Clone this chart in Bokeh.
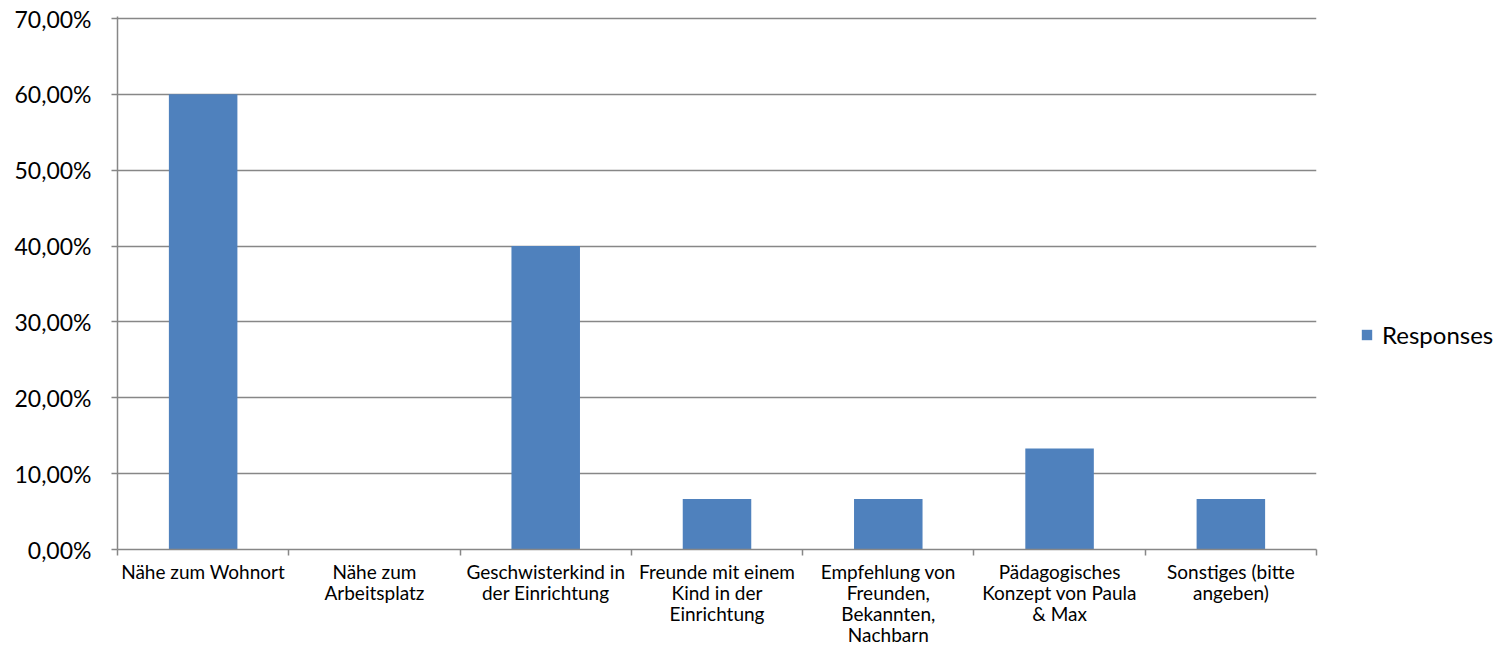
from bokeh.plotting import figure
from bokeh.layouts import row
from bokeh.models import (Range1d, FixedTicker, CustomJSTickFormatter, Legend,
                          LegendItem, ColumnDataSource)
from bokeh.embed import file_html
from bokeh.resources import INLINE

categories = [
    "Nähe zum Wohnort",
    "Nähe zum Arbeitsplatz",
    "Geschwisterkind in der Einrichtung",
    "Freunde mit einem Kind in der Einrichtung",
    "Empfehlung von Freunden, Bekannten, Nachbarn",
    "Pädagogisches Konzept von Paula & Max",
    "Sonstiges (bitte angeben)",
]
tick_labels = [
    "Nähe zum Wohnort",
    "Nähe zum\nArbeitsplatz",
    "Geschwisterkind in\nder Einrichtung",
    "Freunde mit einem\nKind in der\nEinrichtung",
    "Empfehlung von\nFreunden,\nBekannten,\nNachbarn",
    "Pädagogisches\nKonzept von Paula\n& Max",
    "Sonstiges (bitte\nangeben)",
]
values = [60.0, 0.0, 40.0, 6.67, 6.67, 13.33, 6.67]
y_ticks = [0, 10, 20, 30, 40, 50, 60, 70]
series_name = "Responses"

FONT = "Lato"
GRID = "#878787"
BAR = "#4F81BD"

n = len(categories)
xs = [i + 0.5 for i in range(n)]
src = ColumnDataSource(dict(x=xs, top=values, cat=categories))

y_end = y_ticks[-1] * 533 / 531  # a little headroom so the top gridline is not clipped

MAIN_W = 1330
H = 648

p = figure(width=MAIN_W, height=H,
           x_range=Range1d(0, n), y_range=Range1d(0, y_end),
           output_backend="svg", toolbar_location=None,
           min_border_left=117, min_border_right=MAIN_W - 1316,
           min_border_top=16, min_border_bottom=H - 549)
p.outline_line_color = None
p.background_fill_color = "white"

r = p.vbar(x="x", top="top", width=0.4, source=src,
           fill_color=BAR, line_color=None)

# grid
p.xgrid.visible = False
p.ygrid.ticker = FixedTicker(ticks=y_ticks)
p.ygrid.grid_line_color = GRID
p.ygrid.grid_line_width = 1.5
p.ygrid.level = "underlay"

# y axis
ya = p.yaxis[0]
ya.ticker = FixedTicker(ticks=y_ticks)
ya.formatter = CustomJSTickFormatter(
    code="return tick.toFixed(2).replace('.', ',') + '%';")
ya.major_label_text_font = FONT
ya.major_label_text_font_size = "23px"
ya.major_label_text_color = "#000000"
ya.major_tick_out = 6
ya.major_tick_in = 0
ya.major_tick_line_color = GRID
ya.major_tick_line_width = 1.5
ya.minor_tick_line_color = None
ya.axis_line_color = GRID
ya.axis_line_width = 1.5
ya.major_label_standoff = 20

# x axis
xa = p.xaxis[0]
xa.ticker = FixedTicker(ticks=xs, minor_ticks=list(range(n + 1)))
xa.formatter = CustomJSTickFormatter(
    args=dict(labels=tick_labels),
    code="return labels[Math.floor(tick)];")
xa.major_label_text_font = FONT
xa.major_label_text_font_size = "19px"
xa.major_label_text_color = "#000000"
xa.major_label_text_line_height = 0.92
xa.major_tick_out = 0
xa.major_tick_in = 0
xa.major_tick_line_color = None
xa.minor_tick_out = 6
xa.minor_tick_in = 0
xa.minor_tick_line_color = GRID
xa.minor_tick_line_width = 1.5
xa.axis_line_color = GRID
xa.axis_line_width = 1.5
xa.major_label_standoff = 4

# legend panel (separate, axis-less figure to the right)
LEG_W = 1496 - MAIN_W
q = figure(width=LEG_W, height=H, x_range=Range1d(0, 1), y_range=Range1d(0, 1),
           output_backend="svg", toolbar_location=None,
           min_border_left=0, min_border_right=0,
           min_border_top=0, min_border_bottom=0)
q.axis.visible = False
q.grid.visible = False
q.outline_line_color = None
# swatch renderer for the legend; its single bar lies outside the visible range
leg_src = ColumnDataSource(dict(x=[5.0], top=[1.0]))
lr = q.vbar(x="x", top="top", width=0.4, source=leg_src,
            fill_color=BAR, line_color=None)

legend = Legend(items=[LegendItem(label=series_name, renderers=[lr])],
                location=(1360 - MAIN_W, 200))
legend.border_line_color = None
legend.background_fill_alpha = 0
legend.label_text_font = FONT
legend.label_text_font_size = "24px"
legend.label_text_color = "#000000"
legend.glyph_width = 13
legend.glyph_height = 13
legend.padding = 0
legend.margin = 0
legend.label_standoff = 9
q.add_layout(legend)

layout = row(p, q)
open("out.html", "w").write(file_html(layout, INLINE))
